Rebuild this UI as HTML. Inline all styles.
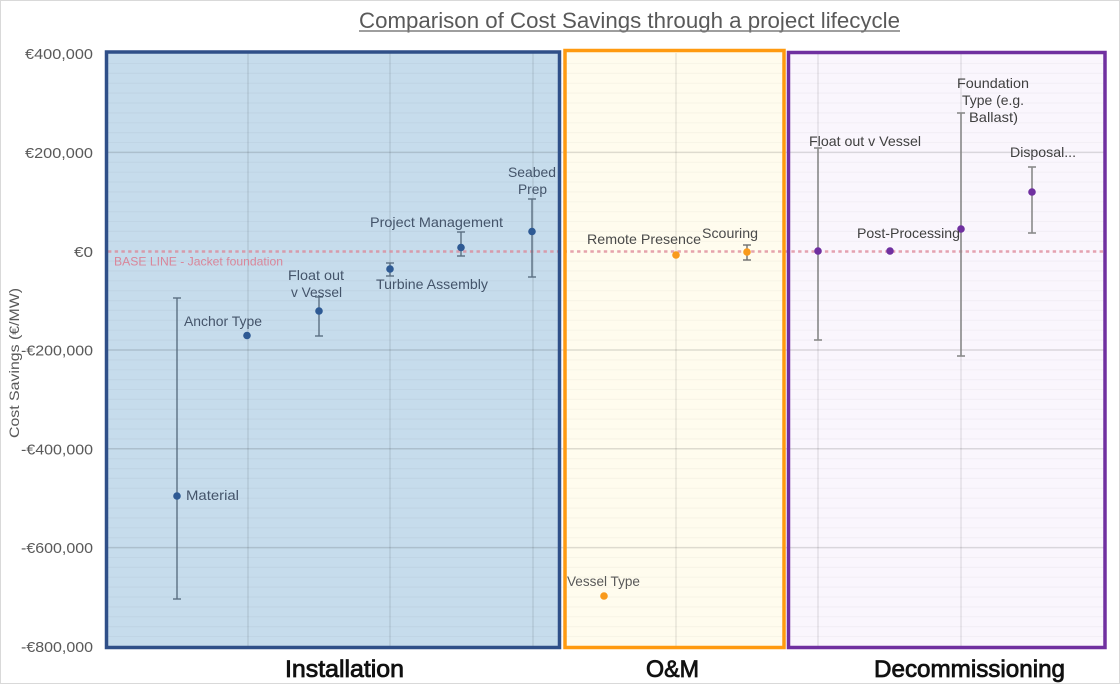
<!DOCTYPE html>
<html>
<head>
<meta charset="utf-8">
<style>
  html,body{margin:0;padding:0;background:#fff;}
  svg{display:block;}
  text{font-family:"Liberation Sans", Arial, sans-serif;}
</style>
</head>
<body>
<svg width="1120" height="684" viewBox="0 0 1120 684" xmlns="http://www.w3.org/2000/svg">
  <rect x="0" y="0" width="1120" height="684" fill="#ffffff"/>
  <rect x="0.5" y="0.5" width="1119" height="683" fill="none" stroke="#d9d9d9" stroke-width="1"/>

  <!-- Title -->
  <text x="359" y="28" font-size="22" fill="#595959" textLength="541" lengthAdjust="spacingAndGlyphs">Comparison  of  Cost  Savings  through  a  project  lifecycle</text>
  <line x1="359" y1="31" x2="900" y2="31" stroke="#7f7f7f" stroke-width="1.4"/>

  <!-- Panel fills -->
  <rect x="106.5" y="52" width="453" height="595.5" fill="#c6dcec"/>
  <rect x="565" y="50.5" width="219" height="597" fill="#fffcee"/>
  <rect x="788.5" y="52.5" width="316.5" height="595" fill="#faf6fd"/>

  <!-- Minor gridlines (every 20k) -->
  <g stroke="#000" stroke-opacity="0.028" stroke-width="1.2">
    <line x1="106" y1="63.5" x2="1105" y2="63.5"/>
    <line x1="106" y1="73.4" x2="1105" y2="73.4"/>
    <line x1="106" y1="83.3" x2="1105" y2="83.3"/>
    <line x1="106" y1="93.1" x2="1105" y2="93.1"/>
    <line x1="106" y1="103.0" x2="1105" y2="103.0"/>
    <line x1="106" y1="112.9" x2="1105" y2="112.9"/>
    <line x1="106" y1="122.8" x2="1105" y2="122.8"/>
    <line x1="106" y1="132.6" x2="1105" y2="132.6"/>
    <line x1="106" y1="142.5" x2="1105" y2="142.5"/>
    <line x1="106" y1="162.3" x2="1105" y2="162.3"/>
    <line x1="106" y1="172.2" x2="1105" y2="172.2"/>
    <line x1="106" y1="182.0" x2="1105" y2="182.0"/>
    <line x1="106" y1="191.9" x2="1105" y2="191.9"/>
    <line x1="106" y1="201.8" x2="1105" y2="201.8"/>
    <line x1="106" y1="211.7" x2="1105" y2="211.7"/>
    <line x1="106" y1="221.5" x2="1105" y2="221.5"/>
    <line x1="106" y1="231.4" x2="1105" y2="231.4"/>
    <line x1="106" y1="241.3" x2="1105" y2="241.3"/>
    <line x1="106" y1="261.1" x2="1105" y2="261.1"/>
    <line x1="106" y1="270.9" x2="1105" y2="270.9"/>
    <line x1="106" y1="280.8" x2="1105" y2="280.8"/>
    <line x1="106" y1="290.7" x2="1105" y2="290.7"/>
    <line x1="106" y1="300.6" x2="1105" y2="300.6"/>
    <line x1="106" y1="310.4" x2="1105" y2="310.4"/>
    <line x1="106" y1="320.3" x2="1105" y2="320.3"/>
    <line x1="106" y1="330.2" x2="1105" y2="330.2"/>
    <line x1="106" y1="340.1" x2="1105" y2="340.1"/>
    <line x1="106" y1="359.9" x2="1105" y2="359.9"/>
    <line x1="106" y1="369.8" x2="1105" y2="369.8"/>
    <line x1="106" y1="379.6" x2="1105" y2="379.6"/>
    <line x1="106" y1="389.5" x2="1105" y2="389.5"/>
    <line x1="106" y1="399.4" x2="1105" y2="399.4"/>
    <line x1="106" y1="409.3" x2="1105" y2="409.3"/>
    <line x1="106" y1="419.1" x2="1105" y2="419.1"/>
    <line x1="106" y1="429.0" x2="1105" y2="429.0"/>
    <line x1="106" y1="438.9" x2="1105" y2="438.9"/>
    <line x1="106" y1="458.7" x2="1105" y2="458.7"/>
    <line x1="106" y1="468.6" x2="1105" y2="468.6"/>
    <line x1="106" y1="478.4" x2="1105" y2="478.4"/>
    <line x1="106" y1="488.3" x2="1105" y2="488.3"/>
    <line x1="106" y1="498.2" x2="1105" y2="498.2"/>
    <line x1="106" y1="508.1" x2="1105" y2="508.1"/>
    <line x1="106" y1="517.9" x2="1105" y2="517.9"/>
    <line x1="106" y1="527.8" x2="1105" y2="527.8"/>
    <line x1="106" y1="537.7" x2="1105" y2="537.7"/>
    <line x1="106" y1="557.5" x2="1105" y2="557.5"/>
    <line x1="106" y1="567.4" x2="1105" y2="567.4"/>
    <line x1="106" y1="577.2" x2="1105" y2="577.2"/>
    <line x1="106" y1="587.1" x2="1105" y2="587.1"/>
    <line x1="106" y1="597.0" x2="1105" y2="597.0"/>
    <line x1="106" y1="606.9" x2="1105" y2="606.9"/>
    <line x1="106" y1="616.7" x2="1105" y2="616.7"/>
    <line x1="106" y1="626.6" x2="1105" y2="626.6"/>
    <line x1="106" y1="636.5" x2="1105" y2="636.5"/>
  </g>

  <!-- Major gridlines -->
  <g stroke="#000" stroke-opacity="0.13" stroke-width="1.5">
    <line x1="106" y1="152.4" x2="1105" y2="152.4"/>
    <line x1="106" y1="350" x2="1105" y2="350"/>
    <line x1="106" y1="448.8" x2="1105" y2="448.8"/>
    <line x1="106" y1="547.6" x2="1105" y2="547.6"/>
  </g>
  <!-- Vertical gridlines -->
  <g stroke="#000" stroke-opacity="0.09" stroke-width="1.5">
    <line x1="248" y1="53" x2="248" y2="646"/>
    <line x1="390" y1="53" x2="390" y2="646"/>
    <line x1="533" y1="53" x2="533" y2="646"/>
    <line x1="676" y1="53" x2="676" y2="646"/>
    <line x1="818" y1="53" x2="818" y2="646"/>
    <line x1="961" y1="53" x2="961" y2="646"/>
  </g>

  <!-- Baseline dashed -->
  <line x1="108" y1="251.5" x2="1103" y2="251.5" stroke="#dc8596" stroke-opacity="0.75" stroke-width="2.6" stroke-dasharray="3.4 3.3"/>
  <text x="114" y="265.5" font-size="12" fill="#d9869a" textLength="169" lengthAdjust="spacingAndGlyphs">BASE LINE  - Jacket foundation</text>

  <!-- Panel borders -->
  <rect x="106.5" y="52" width="453" height="595.5" fill="none" stroke="#2f4f88" stroke-width="3.5"/>
  <rect x="565" y="50.5" width="219" height="597" fill="none" stroke="#ff9a10" stroke-width="3.5"/>
  <rect x="788.5" y="52.5" width="316.5" height="595" fill="none" stroke="#7030a0" stroke-width="3.5"/>

  <!-- Installation error bars -->
  <g stroke="#5b6f82" stroke-width="1.4" fill="none">
    <line x1="177" y1="298" x2="177" y2="599"/><line x1="173" y1="298" x2="181" y2="298"/><line x1="173" y1="599" x2="181" y2="599"/>
    <line x1="319" y1="297" x2="319" y2="336"/><line x1="315" y1="297" x2="323" y2="297"/><line x1="315" y1="336" x2="323" y2="336"/>
    <line x1="390" y1="263" x2="390" y2="276"/><line x1="386" y1="263" x2="394" y2="263"/><line x1="386" y1="276" x2="394" y2="276"/>
    <line x1="461" y1="232" x2="461" y2="256"/><line x1="457" y1="232" x2="465" y2="232"/><line x1="457" y1="256" x2="465" y2="256"/>
    <line x1="532" y1="199" x2="532" y2="277"/><line x1="528" y1="199" x2="536" y2="199"/><line x1="528" y1="277" x2="536" y2="277"/>
  </g>
  <g fill="#2e5a94">
    <circle cx="177" cy="496" r="3.8"/>
    <circle cx="247" cy="335.5" r="3.8"/>
    <circle cx="319" cy="311" r="3.8"/>
    <circle cx="390" cy="269" r="3.8"/>
    <circle cx="461" cy="247.5" r="3.8"/>
    <circle cx="532" cy="231.5" r="3.8"/>
  </g>

  <!-- O&M -->
  <g stroke="#6f6f6f" stroke-width="1.4">
    <line x1="747" y1="245" x2="747" y2="260"/><line x1="743" y1="245" x2="751" y2="245"/><line x1="743" y1="260" x2="751" y2="260"/>
  </g>
  <g fill="#f99a1c">
    <circle cx="604" cy="596" r="3.8"/>
    <circle cx="676" cy="255" r="3.8"/>
    <circle cx="747" cy="252" r="3.8"/>
  </g>

  <!-- Decommissioning -->
  <g stroke="#8a8a8a" stroke-width="1.6">
    <line x1="818" y1="148" x2="818" y2="340"/><line x1="814" y1="148" x2="822" y2="148"/><line x1="814" y1="340" x2="822" y2="340"/>
    <line x1="961" y1="113" x2="961" y2="356"/><line x1="957" y1="113" x2="965" y2="113"/><line x1="957" y1="356" x2="965" y2="356"/>
    <line x1="1032" y1="167" x2="1032" y2="233"/><line x1="1028" y1="167" x2="1036" y2="167"/><line x1="1028" y1="233" x2="1036" y2="233"/>
  </g>
  <g fill="#7030a0">
    <circle cx="818" cy="251" r="3.8"/>
    <circle cx="890" cy="251" r="3.8"/>
    <circle cx="961" cy="229" r="3.8"/>
    <circle cx="1032" cy="192" r="3.8"/>
  </g>

  <!-- Installation labels -->
  <g font-size="14" fill="#44546a">
    <text x="186" y="500" textLength="53" lengthAdjust="spacingAndGlyphs">Material</text>
    <text x="184" y="326" textLength="78" lengthAdjust="spacingAndGlyphs">Anchor Type</text>
    <text x="288" y="280" textLength="56" lengthAdjust="spacingAndGlyphs">Float out</text>
    <text x="291" y="297" textLength="51" lengthAdjust="spacingAndGlyphs">v Vessel</text>
    <text x="376" y="289" textLength="112" lengthAdjust="spacingAndGlyphs">Turbine Assembly</text>
    <text x="370" y="227" textLength="133" lengthAdjust="spacingAndGlyphs">Project Management</text>
    <text x="508" y="177" textLength="48" lengthAdjust="spacingAndGlyphs">Seabed</text>
    <text x="518" y="194" textLength="29" lengthAdjust="spacingAndGlyphs">Prep</text>
  </g>

  <!-- O&M labels -->
  <g font-size="14" fill="#4a4a4a">
    <text x="567" y="586" textLength="73" lengthAdjust="spacingAndGlyphs" fill="#595959">Vessel Type</text>
    <text x="587" y="244" textLength="114" lengthAdjust="spacingAndGlyphs">Remote Presence</text>
    <text x="702" y="238" textLength="56" lengthAdjust="spacingAndGlyphs">Scouring</text>
  </g>

  <!-- Decommissioning labels -->
  <g font-size="14" fill="#404040">
    <text x="809" y="146" textLength="112" lengthAdjust="spacingAndGlyphs">Float out v Vessel</text>
    <text x="857" y="238" textLength="103" lengthAdjust="spacingAndGlyphs">Post-Processing</text>
    <text x="957" y="88" textLength="72" lengthAdjust="spacingAndGlyphs">Foundation</text>
    <text x="962" y="105" textLength="62" lengthAdjust="spacingAndGlyphs">Type (e.g.</text>
    <text x="969" y="122" textLength="49" lengthAdjust="spacingAndGlyphs">Ballast)</text>
    <text x="1010" y="157" textLength="66" lengthAdjust="spacingAndGlyphs">Disposal...</text>
  </g>

  <!-- Y axis tick labels -->
  <g font-size="15" fill="#595959" text-anchor="end">
    <text x="93" y="59" textLength="68" lengthAdjust="spacingAndGlyphs">€400,000</text>
    <text x="93" y="158" textLength="68" lengthAdjust="spacingAndGlyphs">€200,000</text>
    <text x="93" y="257" textLength="19" lengthAdjust="spacingAndGlyphs">€0</text>
    <text x="93" y="355.5" textLength="72" lengthAdjust="spacingAndGlyphs">-€200,000</text>
    <text x="93" y="454.5" textLength="72" lengthAdjust="spacingAndGlyphs">-€400,000</text>
    <text x="93" y="553" textLength="72" lengthAdjust="spacingAndGlyphs">-€600,000</text>
    <text x="93" y="652" textLength="72" lengthAdjust="spacingAndGlyphs">-€800,000</text>
  </g>

  <!-- Y axis title -->
  <text x="0" y="0" font-size="14" fill="#595959" text-anchor="middle" textLength="150" lengthAdjust="spacingAndGlyphs" transform="translate(19,363) rotate(-90)">Cost Savings (€/MW)</text>

  <!-- Section labels -->
  <g font-size="24" fill="#111" stroke="#111" stroke-width="0.8">
    <text x="285" y="677" textLength="119" lengthAdjust="spacingAndGlyphs">Installation</text>
    <text x="646" y="677" textLength="53" lengthAdjust="spacingAndGlyphs">O&amp;M</text>
    <text x="874" y="677" textLength="191" lengthAdjust="spacingAndGlyphs">Decommissioning</text>
  </g>
</svg>
</body>
</html>
